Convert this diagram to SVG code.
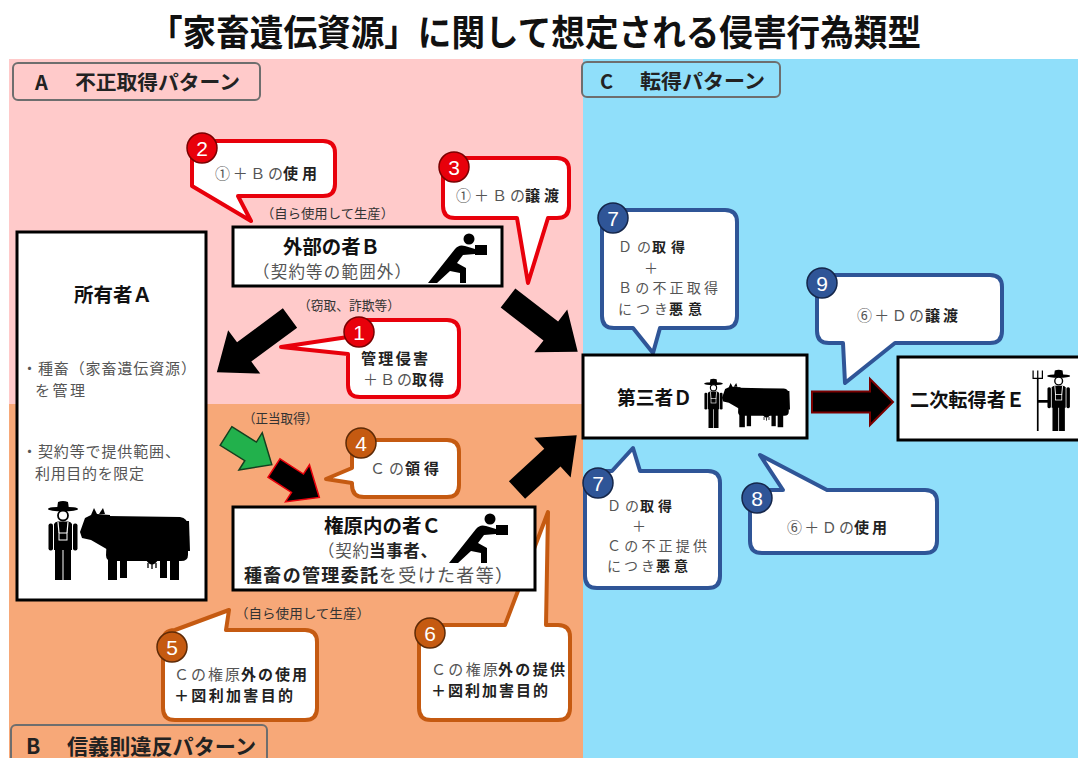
<svg xmlns="http://www.w3.org/2000/svg" xmlns:xlink="http://www.w3.org/1999/xlink" width="1078" height="758" viewBox="0 0 1078 758">
  <style>
    .jp { font-family: "Noto Sans CJK JP", "Noto Sans", sans-serif; }
    .title { font-size: 36px; font-weight: bold; fill: #111; }
    .lbl { font-size: 20px; font-weight: bold; fill: #222; }
    .node { font-size: 19.5px; font-weight: bold; fill: #111; }
    .sub { font-size: 16.5px; fill: #555; }
    .note { font-size: 13px; fill: #333; }
    .co { font-size: 15px; fill: #555; }
    .sm { font-size: 14px; }
    .b { font-weight: bold; fill: #222; }
    .num { font-family: "Liberation Sans", Arial, sans-serif; font-size: 21px; fill: #fff; text-anchor: middle; }
    .callout { fill: #fff; stroke-width: 4; stroke-linejoin: round; }
    .red { stroke: #E8000B; }
    .brn { stroke: #C55A11; }
    .blu { stroke: #2F5597; }
    .bd-red { fill: #E8000B; stroke: #7A0000; stroke-width: 1.5; }
    .bd-brn { fill: #C55A11; stroke: #5E2A06; stroke-width: 1.5; }
    .bd-blu { fill: #2F5597; stroke: #14264A; stroke-width: 1.5; }
    .box { fill: #fff; stroke: #000; stroke-width: 3; }
    .tag { stroke: #6E6E6E; stroke-width: 2; }
    .blk { fill: #000; }
  </style>
  <defs>
    <!-- running person carrying a parcel -->
    <symbol id="runner" viewBox="0 0 60 50">
      <circle cx="41" cy="6" r="5.5"/>
      <rect x="47" y="12" width="12" height="10"/>
      <path d="M0,50 L9,50 L22,38 L32,40 L32,50 L38,50 L38,35 L29,30 L35,22 L47,21 L47,16 L37,13 Q31,11 27,16 Z"/>
    </symbol>
    <!-- standing farmer in overalls -->
    <symbol id="farmer" viewBox="0 0 30 80">
      <ellipse cx="15" cy="9" rx="15" ry="2.3"/>
      <path d="M9,9 L10,2 Q15,0 20,2 L21,9 Z"/>
      <circle cx="15" cy="15.5" r="5" fill="#fff" stroke="#000" stroke-width="1.8"/>
      <path d="M6,24 Q7,21.5 10,21.5 H20 Q23,21.5 24,24 V50 H6 Z"/>
      <rect x="0.5" y="23.5" width="4.5" height="27" rx="2"/>
      <rect x="25" y="23.5" width="4.5" height="27" rx="2"/>
      <path d="M10,22 L11,33 M20,22 L19,33" stroke="#fff" stroke-width="1.2" fill="none"/>
      <rect x="11" y="33" width="8" height="7" stroke="#fff" stroke-width="1" fill="none"/>
      <rect x="7" y="49" width="7.5" height="31"/>
      <rect x="15.5" y="49" width="7.5" height="31"/>
    </symbol>
    <!-- cow facing left -->
    <symbol id="cow" viewBox="0 0 110 75">
      <path d="M30,10 L17,9 L14,3 L11,10 L5,13 L0,27 L2,33 L11,35 L30,46 Z"/>
      <path d="M19,9 L23,3 L25,9 Z"/>
      <path d="M28,11 L100,12 Q108,13 108,22 L108,50 Q108,56 101,56 L32,56 Q26,56 26,50 Z"/>
      <rect x="28" y="50" width="9" height="25"/>
      <rect x="40" y="50" width="7" height="23"/>
      <rect x="90" y="50" width="9" height="25"/>
      <rect x="80" y="50" width="7" height="23"/>
      <path d="M66,55 Q72,64 78,55 Z"/>
      <path d="M68,58 V63 M72,59 V64 M76,58 V63" stroke="#000" stroke-width="1.3"/>
      <path d="M106,16 L109,16 L110,46 L107,46 Z"/>
    </symbol>
    <!-- farmer holding a pitchfork -->
    <symbol id="farmerFork" viewBox="0 0 52 80">
      <path d="M10,12 V80" stroke="#000" stroke-width="2.2" fill="none"/>
      <path d="M4,2 V12 H16 V2 M10,2 V12" stroke="#000" stroke-width="1.6" fill="none"/>
      <rect x="10" y="40" width="14" height="3.5"/>
      <use xlink:href="#farmer" x="22" y="0" width="30" height="80"/>
    </symbol>
  </defs>

  <!-- page background and pattern areas -->
  <rect x="0" y="0" width="1078" height="758" fill="#fff"/>
  <rect x="9" y="59" width="574" height="345" fill="#FFCACA"/>
  <rect x="9" y="404" width="574" height="354" fill="#F7A878"/>
  <rect x="583" y="59" width="495" height="699" fill="#90DFFA"/>

  <text class="jp title" x="149" y="46" textLength="772" lengthAdjust="spacingAndGlyphs">「家畜遺伝資源」に関して想定される侵害行為類型</text>

  <!-- pattern labels -->
  <g id="label-A">
    <rect class="tag" x="13" y="63" width="247" height="37" rx="5" fill="#FFCACA"/>
    <text class="jp lbl" x="35" y="90">A</text>
    <text class="jp lbl" x="75" y="90" textLength="165" lengthAdjust="spacingAndGlyphs">不正取得パターン</text>
  </g>
  <g id="label-C">
    <rect class="tag" x="582" y="62" width="198" height="35" rx="5" fill="#90DFFA"/>
    <text class="jp lbl" x="600" y="89">C</text>
    <text class="jp lbl" x="640" y="89" textLength="125" lengthAdjust="spacingAndGlyphs">転得パターン</text>
  </g>
  <g id="label-B">
    <rect class="tag" x="11" y="725" width="256" height="45" rx="5" fill="#F7A878"/>
    <text class="jp lbl" x="26" y="754" style="font-size:21px">B</text>
    <text class="jp lbl" x="67" y="754" style="font-size:21px" textLength="189" lengthAdjust="spacingAndGlyphs">信義則違反パターン</text>
  </g>

  <!-- callouts -->
  <g id="callout-2">
    <path class="callout red" d="M204,141 H323 Q335,141 335,153 V184 Q335,196 323,196 H238 L251,221 L192,186 V153 Q192,141 204,141 Z"/>
    <circle class="bd-red" cx="202" cy="148" r="15"/>
    <text class="num" x="202" y="156">2</text>
    <text class="jp co" x="215" y="179" textLength="68" lengthAdjust="spacing">①＋Ｂの</text>
    <text class="jp co b" x="283" y="179" textLength="34" lengthAdjust="spacing">使用</text>
  </g>
  <g id="callout-3">
    <path class="callout red" d="M455,158 H557 Q569,158 569,170 V206 Q569,218 557,218 H548 L528,283 L517,218 H455 Q443,218 443,206 V170 Q443,158 455,158 Z"/>
    <circle class="bd-red" cx="454" cy="167" r="15"/>
    <text class="num" x="454" y="175">3</text>
    <text class="jp co" x="456" y="201" textLength="69" lengthAdjust="spacing">①＋Ｂの</text>
    <text class="jp co b" x="525" y="201" textLength="34" lengthAdjust="spacing">譲渡</text>
  </g>
  <g id="callout-1">
    <path class="callout red" d="M360,320 H447 Q459,320 459,332 V385 Q459,397 447,397 H360 Q348,397 348,385 V354 L281,347 L348,337 V332 Q348,320 360,320 Z"/>
    <circle class="bd-red" cx="359" cy="332" r="15"/>
    <text class="num" x="359" y="340">1</text>
    <text class="jp co b" x="361" y="364" textLength="67" lengthAdjust="spacing">管理侵害</text>
    <text class="jp co" x="363" y="385" textLength="49" lengthAdjust="spacing">＋Ｂの</text>
    <text class="jp co b" x="412" y="385" textLength="32" lengthAdjust="spacing">取得</text>
  </g>
  <g id="callout-4">
    <path class="callout brn" d="M364,440 H447 Q459,440 459,452 V485 Q459,497 447,497 H364 Q352,497 352,485 V483 L326,479 L352,468 V452 Q352,440 364,440 Z"/>
    <circle class="bd-brn" cx="361" cy="443" r="15"/>
    <text class="num" x="361" y="451">4</text>
    <text class="jp co" x="370" y="474" textLength="34" lengthAdjust="spacing">Ｃの</text>
    <text class="jp co b" x="405" y="474" textLength="34" lengthAdjust="spacing">領得</text>
  </g>
  <g id="callout-5">
    <path class="callout brn" d="M175,630 L229,610 L226,630 H305 Q317,630 317,642 V708 Q317,720 305,720 H175 Q163,720 163,708 V642 Q163,630 175,630 Z"/>
    <circle class="bd-brn" cx="172" cy="647" r="15"/>
    <text class="num" x="172" y="655">5</text>
    <text class="jp co" x="174" y="680" textLength="66" lengthAdjust="spacing">Ｃの権原</text>
    <text class="jp co b" x="241" y="680" textLength="66" lengthAdjust="spacing">外の使用</text>
    <text class="jp co b" x="174" y="701" textLength="119" lengthAdjust="spacing">＋図利加害目的</text>
  </g>
  <g id="callout-6">
    <path class="callout brn" d="M431,625 H505 L548,512 L546,625 H558 Q570,625 570,637 V708 Q570,720 558,720 H431 Q419,720 419,708 V637 Q419,625 431,625 Z"/>
    <circle class="bd-brn" cx="430" cy="633" r="15"/>
    <text class="num" x="430" y="641">6</text>
    <text class="jp co" x="431" y="675" textLength="67" lengthAdjust="spacing">Ｃの権原</text>
    <text class="jp co b" x="498" y="675" textLength="67" lengthAdjust="spacing">外の提供</text>
    <text class="jp co b" x="431" y="696" textLength="117" lengthAdjust="spacing">＋図利加害目的</text>
  </g>
  <g id="callout-7a">
    <path class="callout blu" d="M614,210 H725 Q737,210 737,222 V316 Q737,328 725,328 H660 L653,353 L633,328 H614 Q602,328 602,316 V222 Q602,210 614,210 Z"/>
    <circle class="bd-blu" cx="613" cy="218" r="15"/>
    <text class="num" x="613" y="226">7</text>
    <text class="jp co sm" x="618" y="252" textLength="33" lengthAdjust="spacing">Ｄの</text>
    <text class="jp co sm b" x="652" y="252" textLength="33" lengthAdjust="spacing">取得</text>
    <text class="jp co sm" x="644" y="272.5">＋</text>
    <text class="jp co sm" x="618" y="293" textLength="100" lengthAdjust="spacing">Ｂの不正取得</text>
    <text class="jp co sm" x="618" y="313.5" textLength="50" lengthAdjust="spacing">につき</text>
    <text class="jp co sm b" x="669" y="313.5" textLength="33" lengthAdjust="spacing">悪意</text>
  </g>
  <g id="callout-7b">
    <path class="callout blu" d="M597,471 H612 L633,448 L640,471 H708 Q720,471 720,483 V576 Q720,588 708,588 H597 Q585,588 585,576 V483 Q585,471 597,471 Z"/>
    <circle class="bd-blu" cx="598" cy="483" r="15"/>
    <text class="num" x="598" y="491">7</text>
    <text class="jp co sm" x="607" y="511" textLength="32" lengthAdjust="spacing">Ｄの</text>
    <text class="jp co sm b" x="640" y="511" textLength="32" lengthAdjust="spacing">取得</text>
    <text class="jp co sm" x="632" y="530.5">＋</text>
    <text class="jp co sm" x="607" y="550.5" textLength="100" lengthAdjust="spacing">Ｃの不正提供</text>
    <text class="jp co sm" x="607" y="571" textLength="48" lengthAdjust="spacing">につき</text>
    <text class="jp co sm b" x="656" y="571" textLength="32" lengthAdjust="spacing">悪意</text>
  </g>
  <g id="callout-8">
    <path class="callout blu" d="M762,490 H783 L760,455 L827,490 H925 Q937,490 937,502 V541 Q937,553 925,553 H762 Q750,553 750,541 V502 Q750,490 762,490 Z"/>
    <circle class="bd-blu" cx="757" cy="498" r="15"/>
    <text class="num" x="757" y="506">8</text>
    <text class="jp co" x="787" y="533" textLength="67" lengthAdjust="spacing">⑥＋Ｄの</text>
    <text class="jp co b" x="854" y="533" textLength="33" lengthAdjust="spacing">使用</text>
  </g>
  <g id="callout-9">
    <path class="callout blu" d="M829,275 H990 Q1002,275 1002,287 V331 Q1002,343 990,343 H895 L845,383 L843,343 H829 Q817,343 817,331 V287 Q817,275 829,275 Z"/>
    <circle class="bd-blu" cx="822" cy="283" r="15"/>
    <text class="num" x="822" y="291">9</text>
    <text class="jp co" x="857" y="321" textLength="67" lengthAdjust="spacing">⑥＋Ｄの</text>
    <text class="jp co b" x="925" y="321" textLength="33" lengthAdjust="spacing">譲渡</text>
  </g>

  <!-- parties -->
  <g id="node-A">
    <rect class="box" x="17" y="232" width="189" height="368"/>
    <text class="jp node" x="74" y="302" textLength="78" lengthAdjust="spacingAndGlyphs">所有者Ａ</text>
    <text class="jp sub" x="22" y="374" style="font-size:15px" textLength="174" lengthAdjust="spacing">・種畜（家畜遺伝資源）</text>
    <text class="jp sub" x="35" y="396" style="font-size:15px" textLength="50" lengthAdjust="spacing">を管理</text>
    <text class="jp sub" x="22" y="457" style="font-size:15px" textLength="158" lengthAdjust="spacing">・契約等で提供範囲、</text>
    <text class="jp sub" x="35" y="479" style="font-size:15px" textLength="109" lengthAdjust="spacing">利用目的を限定</text>
    <use xlink:href="#farmer" x="48" y="500" width="30" height="80"/>
    <use xlink:href="#cow" x="80" y="505" width="110" height="75"/>
  </g>
  <g id="node-B">
    <rect class="box" x="233" y="227" width="269" height="59"/>
    <text class="jp node" x="283" y="254" textLength="97" lengthAdjust="spacingAndGlyphs">外部の者Ｂ</text>
    <text class="jp sub" x="253" y="278" textLength="158" lengthAdjust="spacing">（契約等の範囲外）</text>
    <use xlink:href="#runner" x="428" y="233" width="60" height="50"/>
  </g>
  <g id="node-C">
    <rect class="box" x="233" y="507" width="302" height="83"/>
    <text class="jp node" x="324" y="533" textLength="117" lengthAdjust="spacingAndGlyphs">権原内の者Ｃ</text>
    <text class="jp sub" x="318" y="557" textLength="51" lengthAdjust="spacing">（契約</text>
    <text class="jp sub b" x="369" y="557" textLength="68" lengthAdjust="spacing">当事者、</text>
    <text class="jp sub b" x="244" y="582" style="font-size:18px" textLength="134" lengthAdjust="spacing">種畜の管理委託</text>
    <text class="jp sub" x="379" y="582" style="font-size:18px" textLength="134" lengthAdjust="spacing">を受けた者等）</text>
    <use xlink:href="#runner" x="449" y="513" width="60" height="50"/>
  </g>
  <g id="node-D">
    <rect class="box" x="583" y="355" width="224" height="83"/>
    <text class="jp node" x="617" y="405" textLength="75" lengthAdjust="spacingAndGlyphs">第三者Ｄ</text>
    <use xlink:href="#farmer" x="704" y="378" width="19" height="50"/>
    <use xlink:href="#cow" x="722" y="381" width="68" height="46.5"/>
  </g>
  <g id="node-E">
    <rect class="box" x="898" y="357" width="200" height="83"/>
    <text class="jp node" x="910" y="407" textLength="115" lengthAdjust="spacingAndGlyphs">二次転得者Ｅ</text>
    <use xlink:href="#farmerFork" x="1030" y="369" width="40.3" height="62"/>
  </g>

  <!-- side notes on the flows -->
  <g id="notes">
    <text class="jp note" x="261" y="218" textLength="133" lengthAdjust="spacingAndGlyphs">（自ら使用して生産）</text>
    <text class="jp note" x="298" y="310" textLength="102" lengthAdjust="spacingAndGlyphs">（窃取、詐欺等）</text>
    <text class="jp note" x="243" y="423" textLength="75" lengthAdjust="spacingAndGlyphs">（正当取得）</text>
    <text class="jp note" x="235" y="618" textLength="135" lengthAdjust="spacingAndGlyphs">（自ら使用して生産）</text>
  </g>

  <!-- connectors: block arrows -->
  <g id="connectors">
    <path class="blk" d="M0,-12 L57,-12 L57,-27 L91,0 L57,27 L57,12 L0,12 Z" transform="translate(290,318) rotate(143.5)"/>
    <path class="blk" d="M0,-12 L54,-12 L54,-27 L88,0 L54,27 L54,12 L0,12 Z" transform="translate(508,298) rotate(37.6)"/>
    <path d="M0,-11 L29,-11 L29,-22 L54,0 L29,22 L29,11 L0,11 Z" fill="#22B14C" stroke="#14401F" stroke-width="1.5" transform="translate(226,436) rotate(32)"/>
    <path d="M0,-11 L28,-11 L28,-22 L54,0 L28,22 L28,11 L0,11 Z" fill="#000" stroke="#E8000B" stroke-width="1.5" transform="translate(274,468) rotate(33)"/>
    <path class="blk" d="M0,-12 L48,-12 L48,-27 L81,0 L48,27 L48,12 L0,12 Z" transform="translate(517,490) rotate(-42.5)"/>
    <path d="M812,391.5 H870 V379 L893,402 L870,425 V412.5 H812 Z" fill="#000" stroke="#7A0000" stroke-width="2"/>
  </g>
</svg>
